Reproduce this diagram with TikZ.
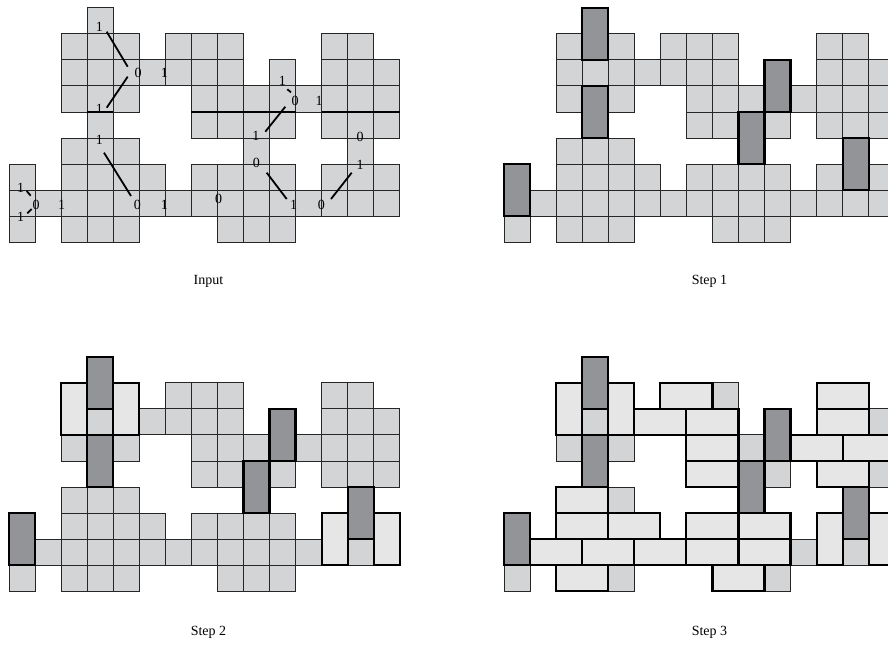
\documentclass[tikz,border=0pt]{standalone}
\usepackage{fontspec}
\setmainfont{Liberation Serif}
\definecolor{cellgray}{RGB}{211,212,214}
\definecolor{domdark}{RGB}{147,148,152}
\definecolor{domlight}{RGB}{230,230,230}
\begin{document}
\begin{tikzpicture}[x=1pt,y=-1pt]
\def\s{26.05}
\useasboundingbox (0,0) rectangle (888,646);
\clip (0,0) rectangle (888,646);
\tikzset{
  cell/.style={fill=cellgray, draw=black!85, line width=0.8pt},
  darkdom/.style={fill=domdark, draw=black, line width=2.2pt},
  lightdom/.style={fill=domlight, draw=black, line width=2.2pt},
  lbl/.style={font=\fontsize{14}{14}\selectfont, inner sep=0pt},
  link/.style={line width=1.8pt},
  thickedge/.style={line width=2pt},
  caption/.style={font=\fontsize{14}{14}\selectfont, inner sep=0pt}
}
\def\celllist{3/0,
 2/1,3/1,4/1,6/1,7/1,8/1,12/1,13/1,
 2/2,3/2,4/2,5/2,6/2,7/2,8/2,10/2,12/2,13/2,14/2,
 2/3,3/3,4/3,7/3,8/3,9/3,10/3,11/3,12/3,13/3,14/3,
 3/4,7/4,8/4,9/4,10/4,12/4,13/4,14/4,
 2/5,3/5,4/5,9/5,13/5,
 0/6,2/6,3/6,4/6,5/6,7/6,8/6,9/6,10/6,12/6,13/6,14/6,
 0/7,1/7,2/7,3/7,4/7,5/7,6/7,7/7,8/7,9/7,10/7,11/7,12/7,13/7,14/7,
 0/8,2/8,3/8,4/8,8/8,9/8,10/8}
\newcommand\gridcells[2]{%
  \foreach \c/\r in \celllist {
    \draw[cell] ({#1+\c*\s},{#2+\r*\s}) rectangle +(\s,\s);
  }}
% style, x0, y0, col, row, width, height
\newcommand\domino[7]{\draw[#1] ({#2+#4*\s},{#3+#5*\s}) rectangle +({#6*\s},{#7*\s});}
\newcommand\darkdoms[2]{%
  \foreach \c/\r in {3/0,3/3,10/2,9/4,13/5,0/6} {\domino{darkdom}{#1}{#2}{\c}{\r}{1}{2}}}
\newcommand\lightverts[2]{%
  \foreach \c/\r in {2/1,4/1,12/6,14/6} {\domino{lightdom}{#1}{#2}{\c}{\r}{1}{2}}}
\newcommand\lighthors[2]{%
  \foreach \c/\r in {6/1,12/1,5/2,7/2,12/2,7/3,11/3,13/3,7/4,12/4,2/5,2/6,4/6,7/6,9/6,1/7,3/7,5/7,7/7,9/7,2/8,8/8} {\domino{lightdom}{#1}{#2}{\c}{\r}{2}{1}}}

% ---------- Input ----------
\gridcells{9}{7.7}
\draw[thickedge] ({9+3*\s},{7.7+4*\s}) -- ({9+4*\s},{7.7+4*\s});
\draw[thickedge] ({9+7*\s},{7.7+4*\s}) -- ({9+11*\s},{7.7+4*\s});
\draw[thickedge] ({9+12*\s},{7.7+4*\s}) -- ({9+15*\s},{7.7+4*\s});

\node[lbl] (a1) at (99.3,26.7) {1};
\node[lbl] (a2) at (138,73.3) {0};
\node[lbl] (a3) at (164.3,73.3) {1};
\node[lbl] (a4) at (99.3,109.3) {1};
\node[lbl] (b1) at (99.3,140) {1};
\node[lbl] (b2) at (137.3,205) {0};
\node[lbl] (b3) at (164.3,205) {1};
\node[lbl] (b4) at (61.7,205) {1};
\node[lbl] (b5) at (36,205) {0};
\node[lbl] (b6) at (20.7,188.3) {1};
\node[lbl] (b7) at (20.7,216.7) {1};
\node[lbl] (c1) at (282.3,80.5) {1};
\node[lbl] (c2) at (295.2,100.7) {0};
\node[lbl] (c3) at (319,100.7) {1};
\node[lbl] (c4) at (255.8,136) {1};
\node[lbl] (c5) at (360.2,137) {0};
\node[lbl] (d1) at (256.3,163.3) {0};
\node[lbl] (d2) at (360,165.3) {1};
\node[lbl] (d3) at (218.7,199.3) {0};
\node[lbl] (d4) at (293.7,204.5) {1};
\node[lbl] (d5) at (321.3,204.5) {0};

\draw[link] (106.7,31.7) -- (127.7,66.7);
\draw[link] (127.7,76.7) -- (106.7,107.7);
\draw[link] (104,152.7) -- (131,196);
\draw[link] (26.7,191) -- (30.7,195.7);
\draw[link] (27.3,213.3) -- (31.7,209);
\draw[link] (287.3,89.3) -- (291,92.3);
\draw[link] (285.3,106.7) -- (265.3,131.7);
\draw[link] (266.7,172.7) -- (286.7,199);
\draw[link] (331,199) -- (351.7,172.7);

% ---------- Step 1 ----------
\gridcells{504}{7.7}
\darkdoms{504}{7.7}

% ---------- Step 2 ----------
\gridcells{9}{356.7}
\lightverts{9}{356.7}
\darkdoms{9}{356.7}

% ---------- Step 3 ----------
\gridcells{504}{356.7}
\lighthors{504}{356.7}
\lightverts{504}{356.7}
\darkdoms{504}{356.7}

% ---------- captions ----------
\node[caption] (capA) at (208.5,281) {Input};
\node[caption] (capB) at (709.5,281) {Step 1};
\node[caption] (capC) at (208.5,632) {Step 2};
\node[caption] (capD) at (709.5,632) {Step 3};
\end{tikzpicture}
\end{document}
